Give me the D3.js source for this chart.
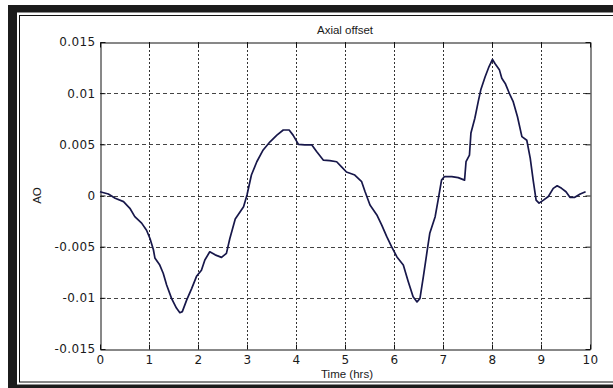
<!DOCTYPE html>
<html>
<head>
<meta charset="utf-8">
<script src="https://cdn.jsdelivr.net/npm/d3@7"></script>
<style>
  html, body { margin: 0; padding: 0; background: #fff; }
  svg { display: block; font-family: "Liberation Sans", Arial, sans-serif; }
</style>
</head>
<body>
<svg id="chart" width="613" height="388"></svg>
<script>
// Axial offset over time
const timeHrs = [0, 0.17, 0.31, 0.48, 0.61, 0.71, 0.85, 0.95, 1.02, 1.09, 1.12, 1.22, 1.29, 1.36, 1.46, 1.56, 1.63, 1.68, 1.77, 1.87,
  1.97, 2.07, 2.14, 2.24, 2.35, 2.48, 2.58, 2.65, 2.76, 2.93, 3.0, 3.09, 3.20, 3.33, 3.47, 3.61, 3.74, 3.86, 3.94, 4.05,
  4.18, 4.32, 4.42, 4.56, 4.69, 4.83, 4.93, 5.03, 5.20, 5.34, 5.41, 5.51, 5.65, 5.75, 5.85, 5.95, 6.06, 6.19, 6.29, 6.39,
  6.47, 6.53, 6.60, 6.68, 6.73, 6.84, 6.90, 6.97, 7.03, 7.18, 7.31, 7.44, 7.47, 7.54, 7.57, 7.65, 7.72, 7.77, 7.86, 7.94,
  8.01, 8.06, 8.15, 8.20, 8.27, 8.37, 8.43, 8.52, 8.61, 8.71, 8.78, 8.84, 8.90, 8.96, 9.05, 9.15, 9.25, 9.33, 9.42, 9.51,
  9.59, 9.69, 9.80, 9.91];
const axialOffset = [0.00037, 0.00015, -0.00027, -0.0006, -0.00125, -0.00207, -0.0027, -0.0034, -0.0042, -0.0053, -0.0061, -0.0068, -0.0076, -0.00875, -0.01005, -0.011, -0.01145, -0.01135, -0.0102, -0.0091,
  -0.0079, -0.0073, -0.0063, -0.0055, -0.0058, -0.00605, -0.00565, -0.0042, -0.0023, -0.0011, 0.00005, 0.002, 0.0033, 0.00445, 0.00525, 0.0059, 0.0064, 0.0064, 0.0059, 0.005,
  0.00495, 0.00495, 0.0043, 0.00345, 0.0034, 0.0033, 0.0028, 0.0023, 0.002, 0.00135, 0.00037, -0.00093, -0.0019, -0.0029, -0.004, -0.005, -0.006, -0.0068, -0.0084, -0.0099,
  -0.0104, -0.01005, -0.0079, -0.0053, -0.0037, -0.00207, -0.00045, 0.0015, 0.00185, 0.00185, 0.00175, 0.0015, 0.0033, 0.00395, 0.0061, 0.00755, 0.0092, 0.0103, 0.0116, 0.0126,
  0.0133, 0.0129, 0.0123, 0.01145, 0.01095, 0.0098, 0.0092, 0.0077, 0.00575, 0.0054, 0.00365, 0.0015, -0.00045, -0.00075, -0.00045, -0.0001, 0.0007, 0.00095, 0.0007, 0.00037,
  -0.00018, -0.00018, 0.00015, 0.00037];

const xTicks = [0, 1, 2, 3, 4, 5, 6, 7, 8, 9, 10];
const yTicks = [-0.015, -0.01, -0.005, 0, 0.005, 0.01, 0.015];
const yTickLabels = ["-0.015", "-0.01", "-0.005", "0", "0.005", "0.01", "0.015"];
const titleText = "Axial offset";
const xLabelText = "Time (hrs)";
const yLabelText = "AO";

const tickFont = "\"DejaVu Sans\", Verdana, sans-serif";
const labelFont = "\"Liberation Sans\", Arial, sans-serif";

const svg = d3.select("#chart");

// Outer window frame: thick dark band plus thin inner rule
const frame = svg.append("g");
frame.append("rect").attr("x", 8).attr("y", 5).attr("width", 620).attr("height", 400).attr("fill", "#1c1c1c");
frame.append("rect").attr("x", 17).attr("y", 12.5).attr("width", 620).attr("height", 372).attr("fill", "#fff");
frame.append("rect").attr("x", 19.5).attr("y", 15.5).attr("width", 620).attr("height", 366.5)
  .attr("fill", "none").attr("stroke", "#111").attr("stroke-width", 1);

const plot = { left: 100, top: 42, right: 590, bottom: 349 };

const x = d3.scaleLinear().domain([0, 10]).range([plot.left, plot.right]);
const y = d3.scaleLinear().domain([-0.015, 0.015]).range([plot.bottom, plot.top]);

// Grid lines
const grid = svg.append("g");
grid.selectAll("line.vg").data(xTicks.slice(1, -1)).join("line")
  .attr("x1", d => Math.round(x(d)) + 0.5).attr("x2", d => Math.round(x(d)) + 0.5)
  .attr("y1", plot.top).attr("y2", plot.bottom)
  .attr("stroke", "#333").attr("stroke-width", 1).attr("stroke-dasharray", "2,2");
grid.selectAll("line.hg").data(yTicks.slice(1, -1)).join("line")
  .attr("y1", d => Math.round(y(d)) + 0.5).attr("y2", d => Math.round(y(d)) + 0.5)
  .attr("x1", plot.left).attr("x2", plot.right)
  .attr("stroke", "#444").attr("stroke-width", 1).attr("stroke-dasharray", "4,3");

// Axes (ticks pointing inward, MATLAB style)
const fmtY = d => yTickLabels[yTicks.indexOf(d)];
const bottomAxis = svg.append("g").attr("transform", `translate(0,${plot.bottom + 0.5})`)
  .call(d3.axisBottom(x).tickValues(xTicks).tickSizeInner(-5).tickSizeOuter(0).tickPadding(6).tickFormat(d3.format("d")));
const topAxis = svg.append("g").attr("transform", `translate(0,${plot.top + 0.5})`)
  .call(d3.axisTop(x).tickValues(xTicks).tickSizeInner(-5).tickSizeOuter(0).tickFormat(""));
const leftAxis = svg.append("g").attr("transform", `translate(${plot.left + 0.5},0)`)
  .call(d3.axisLeft(y).tickValues(yTicks).tickSizeInner(-5).tickSizeOuter(0).tickPadding(5).tickFormat(fmtY));
const rightAxis = svg.append("g").attr("transform", `translate(${plot.right + 0.5},0)`)
  .call(d3.axisRight(y).tickValues(yTicks).tickSizeInner(-5).tickSizeOuter(0).tickFormat(""));

[bottomAxis, topAxis, leftAxis, rightAxis].forEach(g => {
  g.select(".domain").attr("stroke", "#111");
  g.selectAll(".tick line").attr("stroke", "#111");
  g.selectAll("text").attr("fill", "#1a1a1a").attr("font-size", 12)
    .attr("letter-spacing", 0.4).attr("font-family", tickFont);
});

// Data line
const line = d3.line().x((d, i) => x(timeHrs[i])).y(d => y(d)).curve(d3.curveLinear);
svg.append("path").datum(axialOffset)
  .attr("d", line).attr("fill", "none")
  .attr("stroke", "#17174a").attr("stroke-width", 1.7).attr("stroke-linejoin", "round");

// Labels
svg.append("text").attr("x", 345).attr("y", 34)
  .attr("text-anchor", "middle").attr("font-size", 11.5).attr("font-family", labelFont)
  .attr("fill", "#1a1a1a").text(titleText);
svg.append("text").attr("x", 347).attr("y", 378)
  .attr("text-anchor", "middle").attr("font-size", 11.5).attr("font-family", labelFont)
  .attr("fill", "#1a1a1a").text(xLabelText);
svg.append("text").attr("transform", `translate(41,${(plot.top + plot.bottom) / 2}) rotate(-90)`)
  .attr("text-anchor", "middle").attr("font-size", 11.5).attr("font-family", labelFont)
  .attr("fill", "#1a1a1a").text(yLabelText);
</script>
</body>
</html>
